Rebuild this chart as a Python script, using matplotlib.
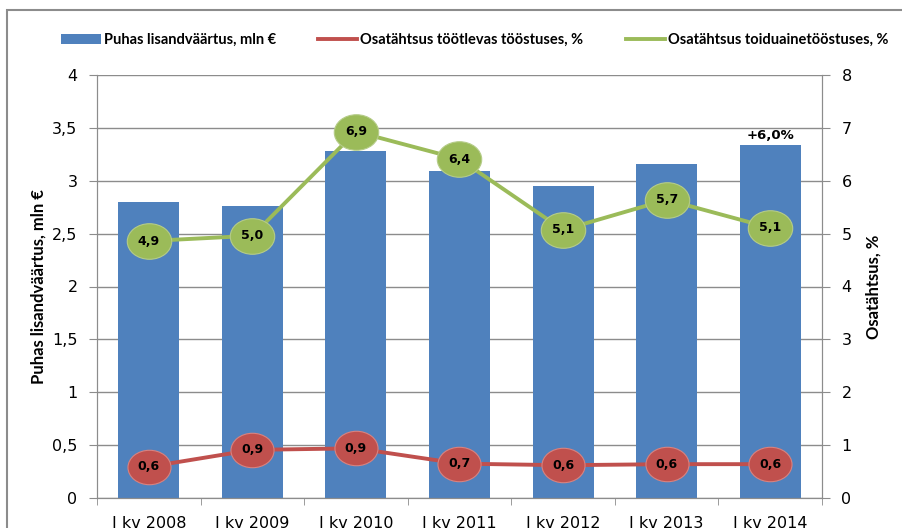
import numpy as np
import matplotlib
matplotlib.use("Agg")
import matplotlib.pyplot as plt
from matplotlib.path import Path
from matplotlib.patches import Rectangle
from matplotlib.ticker import FuncFormatter

# data
quarters = ["I kv 2008", "I kv 2009", "I kv 2010", "I kv 2011",
            "I kv 2012", "I kv 2013", "I kv 2014"]
value_added = [2.80, 2.76, 3.28, 3.09, 2.95, 3.16, 3.34]   # mln EUR, left axis
share_manuf = [0.59, 0.91, 0.94, 0.65, 0.62, 0.64, 0.64]    # %, right axis
share_food = [4.86, 4.96, 6.93, 6.41, 5.07, 5.64, 5.11]     # %, right axis
manuf_labels = ["0,6", "0,9", "0,9", "0,7", "0,6", "0,6", "0,6"]
food_labels = ["4,9", "5,0", "6,9", "6,4", "5,1", "5,7", "5,1"]
last_change = "+6,0%"

BLUE = "#4F81BD"
RED = "#C0504D"
GREEN = "#9BBB59"
GRID = "#8C8C8C"
BOLD_FONT = ["Lato", "DejaVu Sans"]

plt.rcParams["font.family"] = ["DejaVu Sans"]

fig = plt.figure(figsize=(9.03, 5.28), dpi=100)
# outer chart-area frame (only top and left are visible in the crop)
fig.patches.append(Rectangle((7 / 903, -0.1), 1.2, 1 - 10 / 528 + 0.1,
                             transform=fig.transFigure, fill=False,
                             edgecolor="#8C8C8C", lw=1.5))

ax = fig.add_axes([97 / 903, 30 / 528, (822 - 97) / 903, (498 - 75) / 528])
ax2 = ax.twinx()

x = np.arange(len(quarters))
bars = ax.bar(x, value_added, width=0.59, color=BLUE, zorder=2,
              label="Puhas lisandväärtus, mln €")

# elliptical marker
circ = Path.unit_circle()
ell = Path(circ.vertices * np.array([1.25, 1.0]), circ.codes)

l1, = ax2.plot(x, share_manuf, color=RED, lw=2.8, zorder=3,
               label="Osatähtsus töötlevas tööstuses, %")
l2, = ax2.plot(x, share_food, color=GREEN, lw=2.8, zorder=3,
               label="Osatähtsus toiduainetööstuses, %")
ax2.plot(x, share_manuf, ls="none", marker=ell, ms=31, color=RED,
         mec="#D9827F", mew=0.8, zorder=4)
ax2.plot(x, share_food, ls="none", marker=ell, ms=32, color=GREEN,
         mec="#B5CC88", mew=0.8, zorder=4)

for xi, yi, t in zip(x, share_manuf, manuf_labels):
    ax2.text(xi, yi, t, ha="center", va="center", fontsize=9,
             fontweight="bold", zorder=5)
for xi, yi, t in zip(x, share_food, food_labels):
    ax2.text(xi, yi, t, ha="center", va="center", fontsize=9,
             fontweight="bold", zorder=5)

ax.annotate(last_change, (x[-1], value_added[-1]), xytext=(0, 2),
            textcoords="offset points", ha="center", va="bottom",
            fontsize=9.5, fontweight="bold")

# axes
ax.set_xlim(-0.5, len(quarters) - 0.5)
ax.set_ylim(0, 4)
ax2.set_ylim(0, 8)
ax.set_yticks(np.arange(0, 4.01, 0.5))
ax2.set_yticks(np.arange(0, 9, 1))
fmt = FuncFormatter(lambda v, p: ("%g" % v).replace(".", ","))
ax.yaxis.set_major_formatter(fmt)

ax.set_xticks(x)
ax.set_xticklabels(quarters)
ax.set_xticks(np.arange(-0.5, len(quarters)), minor=True)
ax.tick_params(axis="x", which="major", length=0, pad=13, labelsize=11.5)
ax.tick_params(axis="x", which="minor", length=5, color=GRID, direction="out")
ax.tick_params(axis="y", length=6, color=GRID, labelsize=11.5, pad=8)
ax2.tick_params(axis="y", length=6, color=GRID, labelsize=11.5, pad=8)

ax.grid(axis="y", color=GRID, lw=1, zorder=0)
ax.set_axisbelow(True)
for a in (ax, ax2):
    a.spines["top"].set_visible(False)
    for s in ("left", "right", "bottom"):
        a.spines[s].set_color(GRID)

ax.set_ylabel("Puhas lisandväärtus, mln €", fontsize=12, fontweight="bold",
              family=BOLD_FONT, labelpad=4)
ax2.set_ylabel("Osatähtsus, %", fontsize=12, fontweight="bold",
               family=BOLD_FONT, labelpad=10)

leg = fig.legend(handles=[bars, l1, l2], loc="center",
                 bbox_to_anchor=(475 / 903, 1 - 40 / 528), ncol=3,
                 frameon=False,
                 prop={"family": BOLD_FONT, "weight": "bold", "size": 10.5},
                 handlelength=2.7, columnspacing=2.9, handletextpad=0.2)

fig.savefig("out.png", dpi=100)
